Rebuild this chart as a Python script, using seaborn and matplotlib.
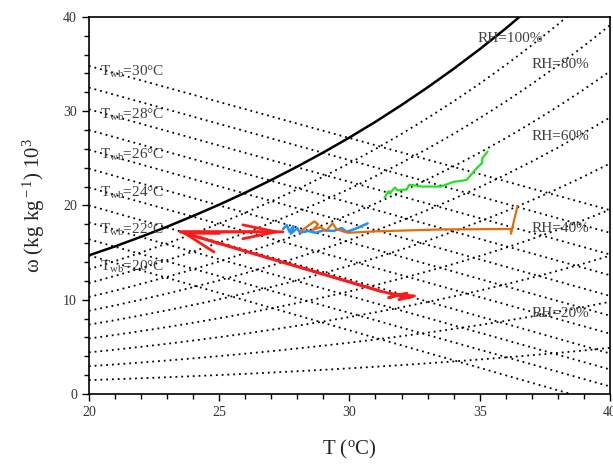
import numpy as np
import pandas as pd
import seaborn as sns
from matplotlib import pyplot as plt
from matplotlib.ticker import MultipleLocator

# saturation humidity ratio (g/kg) at 1 atm, T = 20..40 C
T_sat = [20, 21, 22, 23, 24, 25, 26, 27, 28, 29, 30,
         31, 32, 33, 34, 35, 36, 37, 38, 39, 40]
w_sat = [14.70, 15.65, 16.67, 17.74, 18.88, 20.08, 21.35, 22.70, 24.12, 25.62, 27.20,
         28.87, 30.65, 32.52, 34.49, 36.57, 38.77, 41.10, 43.55, 46.14, 48.89]
rh_levels = [0.1, 0.2, 0.3, 0.4, 0.5, 0.6, 0.7, 0.8, 0.9]

# wet bulb lines, end points at T=20 and T=40
t_wb = [30, 29, 28, 27, 26, 25, 24, 23, 22, 21, 20]
wb_w20 = [34.8, 32.5, 30.2, 28.0, 25.9, 23.9, 21.9, 20.0, 18.2, 16.4, 14.7]
wb_w40 = [19.5, 17.1, 14.8, 12.6, 10.4, 8.3, 6.4, 4.3, 2.6, 0.8, -1.2]
wb_labels = [30, 28, 26, 24, 22, 20]
wb_label_y = [34.2, 29.6, 25.4, 21.3, 17.4, 13.5]

rh_text = ['RH=100%', 'RH=80%', 'RH=60%', 'RH=40%', 'RH=20%']
rh_text_x = [34.9, 37.0, 37.0, 37.0, 37.0]
rh_text_y = [37.7, 34.9, 27.3, 17.5, 8.5]

# measured trajectories
green_T = [31.35, 31.5, 31.55, 31.75, 31.85, 32.2, 32.3, 32.8, 33.5, 34.0, 34.5, 34.9, 35.1, 35.1, 35.3]
green_w = [20.8, 21.5, 21.3, 21.9, 21.6, 21.7, 22.2, 22.0, 22.0, 22.5, 22.7, 24.0, 24.5, 25.0, 25.7]

blue_T = [27.45, 27.6, 27.7, 27.85, 27.75, 28.0, 28.1, 28.4, 28.7, 29.0, 29.4, 29.7, 29.9, 30.3, 30.7]
blue_w = [17.5, 17.9, 17.2, 17.8, 17.0, 17.6, 17.1, 17.3, 17.1, 17.35, 17.3, 17.6, 17.2, 17.6, 18.1]

orange_T = [28.1, 28.3, 28.5, 28.65, 28.8, 28.6, 28.9, 29.1, 29.2, 29.35, 29.5, 29.8, 29.95,
            31.0, 33.5, 36.2, 36.2, 36.45]
orange_w = [17.2, 17.6, 18.0, 18.3, 18.0, 17.4, 17.7, 17.3, 17.6, 18.1, 17.5, 17.2, 17.1,
            17.25, 17.45, 17.5, 17.0, 19.9]

red_T = [32.3, 31.6, 32.5, 31.9, 32.2, 31.5, 31.8, 31.2, 23.5, 27.45]
red_w = [10.2, 10.6, 10.4, 10.0, 10.7, 10.2, 10.5, 10.9, 17.2, 17.2]

sns.set_style('ticks')
plt.rcParams['font.family'] = ['Liberation Serif', 'DejaVu Serif']
plt.rcParams['mathtext.fontset'] = 'custom'
plt.rcParams['mathtext.rm'] = 'Liberation Serif'
plt.rcParams['mathtext.it'] = 'Liberation Serif:italic'

fig = plt.figure(figsize=(6.13, 4.69), dpi=100)
ax = fig.add_axes([0.145, 0.160, 0.850, 0.804])

dots = dict(color='black', lw=1.3, linestyle=(0, (1, 2.2)))
for rh in rh_levels:
    ax.plot(T_sat, [rh * w for w in w_sat], **dots)
for a, b in zip(wb_w20, wb_w40):
    ax.plot([20, 40], [a, b], **dots)

sat = pd.DataFrame({'T': T_sat, 'w': w_sat})
sns.lineplot(data=sat, x='T', y='w', color='black', lw=1.8, ax=ax)

for xs, ys, c, lw in [(green_T, green_w, '#1ee61e', 1.6),
                      (blue_T, blue_w, '#1e90ff', 1.8),
                      (orange_T, orange_w, '#e46c0a', 1.6),
                      (red_T, red_w, '#ff1a1a', 2.0)]:
    sns.lineplot(x=xs, y=ys, sort=False, estimator=None, color=c, lw=lw, ax=ax)

ax.annotate('', xy=(red_T[8], red_w[8]), xytext=(red_T[7], red_w[7]),
            arrowprops=dict(arrowstyle='->,head_length=2.4,head_width=0.7',
                            color='#ff1a1a', lw=2.0, shrinkA=0, shrinkB=0))
ax.annotate('', xy=(red_T[9], red_w[9]), xytext=(red_T[8], red_w[8]),
            arrowprops=dict(arrowstyle='->,head_length=2.4,head_width=0.5',
                            color='#ff1a1a', lw=2.0, shrinkA=0, shrinkB=0))

for t, y in zip(wb_labels, wb_label_y):
    ax.text(20.42, y, r'T$_{\rm wb}$=%d°C' % t, fontsize=11, color='#404040', va='center')
for s, x, y in zip(rh_text, rh_text_x, rh_text_y):
    ax.text(x, y, s, fontsize=11, color='#404040', va='center')

ax.set_xlim(20, 40)
ax.set_ylim(0, 40)
ax.xaxis.set_major_locator(MultipleLocator(5))
ax.xaxis.set_minor_locator(MultipleLocator(1))
ax.yaxis.set_major_locator(MultipleLocator(10))
ax.yaxis.set_minor_locator(MultipleLocator(2))
ax.tick_params(which='both', direction='out', top=False, right=False,
               width=1.0, colors='black', labelsize=10, labelcolor='#333333')
ax.tick_params(which='major', length=5)
ax.tick_params(which='minor', length=3.5)
for sp in ax.spines.values():
    sp.set_visible(True)
    sp.set_linewidth(1.2)
    sp.set_color('black')

ax.set_xlabel(r'T ($^{\rm o}$C)', fontsize=15, labelpad=14)
ax.set_ylabel(r'ω (kg kg$^{\rm -1}$) 10$^{\rm 3}$', fontsize=15, labelpad=12)

fig.savefig('out.png', dpi=100)
